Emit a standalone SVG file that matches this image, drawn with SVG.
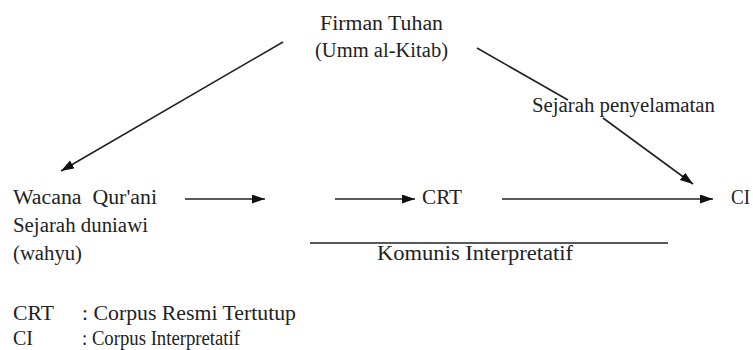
<svg xmlns="http://www.w3.org/2000/svg" width="753" height="350" viewBox="0 0 753 350">
<style>
text{font-family:"Liberation Serif","Times New Roman",serif;font-size:20px;fill:#222}
.ln{stroke:#222;stroke-width:1.6;fill:none}
</style>
<defs>
<marker id="ah" markerUnits="userSpaceOnUse" markerWidth="14" markerHeight="10" refX="13" refY="4.5" orient="auto">
<path d="M0,0 L13,4.5 L0,9 z" fill="#111"/>
</marker>
</defs>
<rect width="753" height="350" fill="#fff"/>
<g id="connectors">
<line class="ln" x1="283" y1="42" x2="61" y2="171" stroke-width="2" marker-end="url(#ah)"/>
<line class="ln" x1="477" y1="48" x2="568" y2="100"/>
<line class="ln" x1="603" y1="118" x2="693" y2="184" stroke-width="2" marker-end="url(#ah)"/>
<line class="ln" x1="185" y1="199" x2="265" y2="199" marker-end="url(#ah)"/>
<line class="ln" x1="335" y1="199" x2="415" y2="199" marker-end="url(#ah)"/>
<line class="ln" x1="502" y1="199" x2="713" y2="199" marker-end="url(#ah)"/>
<line class="ln" x1="310" y1="243" x2="668" y2="243" stroke="#555" stroke-width="2"/>
</g>
<g id="firman">
<text x="320" y="30" textLength="123" lengthAdjust="spacingAndGlyphs">Firman Tuhan</text>
<text x="315" y="57" textLength="133" lengthAdjust="spacingAndGlyphs">(Umm al-Kitab)</text>
</g>
<g id="sejarah-penyelamatan">
<text x="532" y="112" textLength="183" lengthAdjust="spacingAndGlyphs">Sejarah penyelamatan</text>
</g>
<g id="wacana">
<text x="13" y="204" textLength="144" lengthAdjust="spacingAndGlyphs" xml:space="preserve">Wacana  Qur'ani</text>
<text x="13" y="232" textLength="135" lengthAdjust="spacingAndGlyphs">Sejarah duniawi</text>
<text x="13" y="260" textLength="69" lengthAdjust="spacingAndGlyphs">(wahyu)</text>
</g>
<g id="crt">
<text x="422" y="204" textLength="40" lengthAdjust="spacingAndGlyphs">CRT</text>
</g>
<g id="ci">
<text x="731" y="204" textLength="19" lengthAdjust="spacingAndGlyphs">CI</text>
</g>
<g id="komunis">
<text x="377" y="260" textLength="196" lengthAdjust="spacingAndGlyphs">Komunis Interpretatif</text>
</g>
<g id="legend">
<text x="13" y="320" textLength="41" lengthAdjust="spacingAndGlyphs">CRT</text>
<text x="82" y="320" textLength="214" lengthAdjust="spacingAndGlyphs">: Corpus Resmi Tertutup</text>
<text x="13" y="345" textLength="20" lengthAdjust="spacingAndGlyphs">CI</text>
<text x="82" y="345" textLength="158" lengthAdjust="spacingAndGlyphs">: Corpus Interpretatif</text>
</g>
</svg>
